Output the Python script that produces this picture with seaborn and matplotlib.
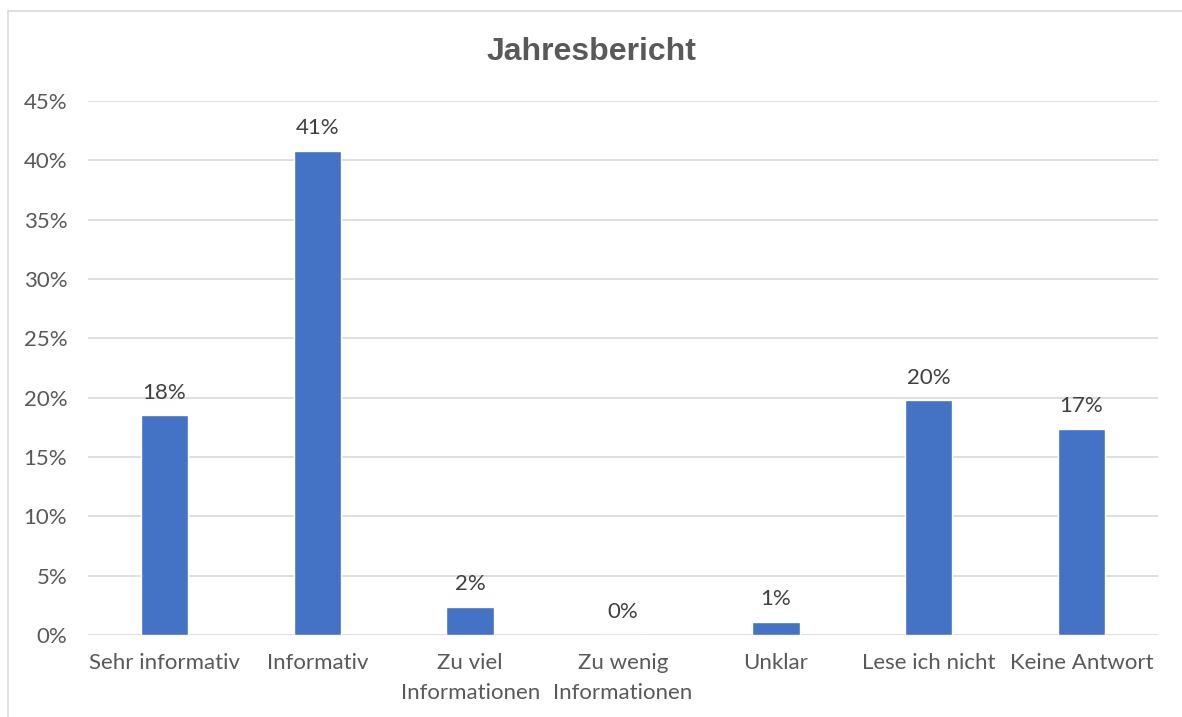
import matplotlib
matplotlib.use("Agg")
import matplotlib.pyplot as plt
import seaborn as sns
import pandas as pd
from matplotlib.patches import Rectangle
from matplotlib.ticker import FuncFormatter

categories = ["Sehr informativ", "Informativ", "Zu viel\nInformationen",
              "Zu wenig\nInformationen", "Unklar", "Lese ich nicht", "Keine Antwort"]
values = [18.5, 40.8, 2.4, 0.0, 1.1, 19.8, 17.4]
value_labels = ["18%", "41%", "2%", "0%", "1%", "20%", "17%"]
y_ticks = [0, 5, 10, 15, 20, 25, 30, 35, 40, 45]

sns.set_theme(style="white")
plt.rcParams['font.family'] = ['Lato', 'DejaVu Sans']

df = pd.DataFrame({"Antwort": categories, "Anteil": values})

fig = plt.figure(figsize=(11.82, 7.17), dpi=100)
ax = fig.add_axes([88 / 1182, 1 - 635 / 717, (1158 - 88) / 1182, (635 - 101) / 717])

sns.barplot(data=df, x="Antwort", y="Anteil", color="#4472C4", width=0.31,
            saturation=1, ax=ax, zorder=3)

ax.set_ylim(0, 45)
ax.set_yticks(y_ticks)
ax.yaxis.set_major_formatter(FuncFormatter(lambda v, _: f"{v:.0f}%"))
ax.grid(axis="y", color="#D9D9D9", linewidth=1.2, zorder=0)
ax.set_axisbelow(True)
for s in ax.spines.values():
    s.set_visible(False)
ax.set_xlabel("")
ax.set_ylabel("")
ax.tick_params(axis="both", length=0, labelsize=16, colors="#595959")
ax.tick_params(axis="x", pad=13)
ax.tick_params(axis="y", pad=15)
for t in ax.get_xticklabels():
    t.set_linespacing(1.6)

for c in ax.containers:
    ax.bar_label(c, labels=value_labels, padding=9, fontsize=16, color="#404040")

fig.text(0.5, 1 - 52 / 717, "Jahresbericht", ha="center", va="center",
         fontsize=23, fontweight="bold", color="#595959",
         family=["Liberation Sans", "DejaVu Sans"])

# light frame around the chart, like the exported office chart
fig.patches.append(Rectangle((8 / 1182, -0.1), 1.2, 1.1 - 11 / 717,
                             transform=fig.transFigure, fill=False,
                             edgecolor="#D9D9D9", linewidth=1.2))

fig.savefig("out.png", dpi=100)
